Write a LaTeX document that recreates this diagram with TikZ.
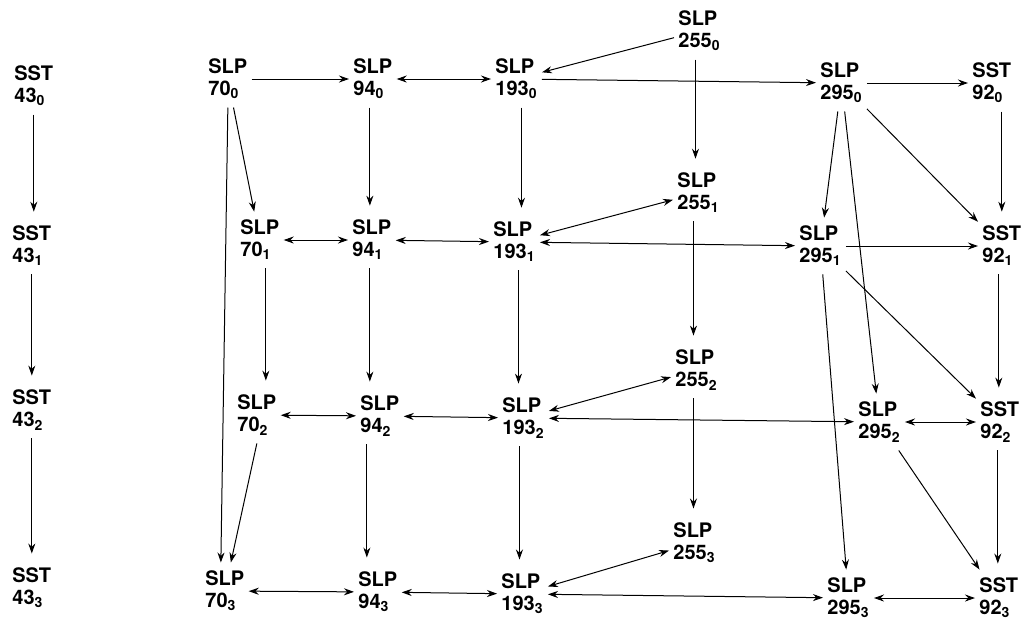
\documentclass[tikz,border=0pt]{standalone}
\usepackage{fontspec}
\setmainfont{TeX Gyre Heros}
\usetikzlibrary{arrows.meta}
\tikzset{lbl/.style={anchor=west,align=left,inner xsep=2pt,inner ysep=4pt,font=\bfseries\fontsize{10}{11}\selectfont}}
\tikzset{arr/.style={-{Stealth[length=5pt,width=3.5pt]},line width=.5pt}}
\tikzset{darr/.style={{Stealth[length=5pt,width=3.5pt]}-{Stealth[length=5pt,width=3.5pt]},line width=.5pt}}

\begin{document}
\begin{tikzpicture}[x=0.5pt,y=-0.5pt]
\useasboundingbox (0,0) rectangle (1021,623);

% the labels, one column after the other
\foreach \ty/\n/\r/\x/\y in {SST/43/0/14/86, SST/43/1/12/246, SST/43/2/12/410, SST/43/3/12/588,
  SLP/70/0/208/79, SLP/70/1/240/240, SLP/70/2/237/415, SLP/70/3/205/591,
  SLP/94/0/353/79, SLP/94/1/352/240, SLP/94/2/360/416, SLP/94/3/358/592,
  SLP/193/0/495/79, SLP/193/1/493/242, SLP/193/2/502/418, SLP/193/3/501/594,
  SLP/255/0/678/31, SLP/255/1/677/193, SLP/255/2/675/370, SLP/255/3/673/543,
  SLP/295/0/820/83, SLP/295/1/799/246, SLP/295/2/858/422, SLP/295/3/827/598,
  SST/92/0/972/83, SST/92/1/982/246, SST/92/2/980/422, SST/92/3/979/598}{
\node[lbl](n\n-\r) at (\x-4,\y){\ty\\\n\textsubscript{\r}};
}

% straight down, \dx moves the line sideways
\foreach \a/\b/\dx in {43-0/43-1/0, 43-1/43-2/0, 43-2/43-3/0, 70-1/70-2/3,
  94-0/94-1/-1.5, 94-1/94-2/-1, 94-2/94-3/-6.5,
  193-0/193-1/2.5, 193-1/193-2/2, 193-2/193-3/-2,
  255-0/255-1/-2, 255-1/255-2/-2.5, 255-2/255-3/-1.5,
  92-0/92-1/5, 92-1/92-2/-1.5, 92-2/92-3/-1}{
\draw[arr,shorten >=3pt]([xshift=\dx pt]n\a.south)--([xshift=\dx pt]n\a.south |- n\b.north);
}

% one way
\foreach \a/\b in {70-0/94-0, 255-0/193-0, 193-0/295-0, 295-0/92-0, 70-0/70-1,
  295-0/295-1, 295-0/295-2, 295-0/92-1, 295-1/92-1,
  295-1/295-3, 295-1/92-2, 295-2/92-3}{
\draw[arr](n\a)--(n\b);
}
\draw[arr](n70-0.south)--([xshift=-2pt]n70-3.north);
\draw[arr](n70-2.south)--([xshift=3pt]n70-3.north);

% both ways
\foreach \a/\b in {94-0/193-0,
  70-1/94-1, 94-1/193-1, 193-1/255-1, 193-1/295-1,
  70-2/94-2, 94-2/193-2, 193-2/255-2, 193-2/295-2, 295-2/92-2,
  70-3/94-3, 94-3/193-3, 193-3/255-3, 193-3/295-3, 295-3/92-3}{
\draw[darr](n\a)--(n\b);
}

\end{tikzpicture}
\end{document}
